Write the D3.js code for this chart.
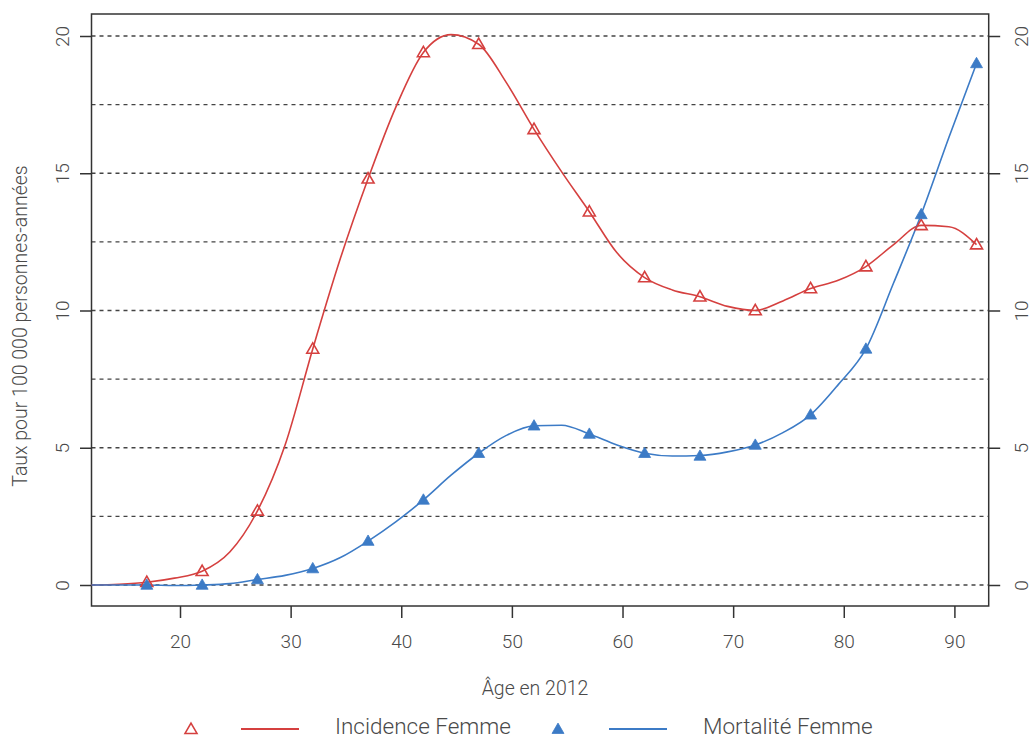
<!DOCTYPE html>
<html><head><meta charset="utf-8">
<script src="https://cdn.jsdelivr.net/npm/d3@7"></script>
<style>body{margin:0;background:#fff}svg{display:block;font-family:Roboto,"Noto Sans",sans-serif;font-weight:300}</style>
</head><body><svg id="c" width="1034" height="740"></svg>
<script>
// marker data
const markerAges = [17,22,27,32,37,42,47,52,57,62,67,72,77,82,87,92];
const incidenceMarkers = [0.1,0.5,2.7,8.6,14.8,19.4,19.7,16.6,13.6,11.2,10.5,10.0,10.8,11.6,13.1,12.4];
const mortaliteMarkers = [0.0,0.0,0.2,0.6,1.6,3.1,4.8,5.8,5.5,4.8,4.7,5.1,6.2,8.6,13.5,19.0];
// line (smoothed curve) data
const lineAges = [12,14.5,17,19.5,22,24.5,27,29.5,32,34.5,37,39.5,42,44.5,47,49.5,52,54.5,57,59.5,62,64.5,67,69.5,72,74.5,77,79.5,82,84.5,87,89.5,92];
const incidenceLine = [0.0,0.03,0.1,0.25,0.5,1.2,2.7,5.1,8.6,11.9,14.8,17.4,19.4,20.05,19.7,18.3,16.6,15.05,13.6,12.1,11.2,10.75,10.5,10.15,10.0,10.35,10.8,11.1,11.6,12.4,13.1,13.05,12.4];
const mortaliteLine = [0.0,0.0,0.0,-0.02,0.0,0.05,0.2,0.35,0.6,1.0,1.6,2.3,3.1,4.0,4.8,5.45,5.8,5.82,5.5,5.1,4.8,4.7,4.72,4.85,5.1,5.55,6.2,7.3,8.6,11.0,13.5,16.3,19.0];
const xTicks = [20,30,40,50,60,70,80,90];
const yTicks = [0,5,10,15,20];
const gridValues = [0,2.5,5,7.5,10,12.5,15,17.5,20];
const seriesNames = ["Incidence Femme","Mortalité Femme"];
const xTitle = "Âge en 2012";
const yTitle = "Taux pour 100 000 personnes-années";

const RED = "#d5403f", BLUE = "#3c7bc6", INK = "#333", TXT = "#4a4a4a";
const L = 91.5, R = 988.7, T = 14, B = 606;
const svg = d3.select("#c");
const x = d3.scaleLinear().domain([12, 93.1]).range([L, R]);
const y = d3.scaleLinear().domain([0, 20]).range([585, 36]);

// grid
svg.append("g").selectAll("line").data(gridValues).join("line")
  .attr("x1", L).attr("x2", R).attr("y1", d => y(d)).attr("y2", d => y(d))
  .attr("stroke", "#444").attr("stroke-width", 1.3).attr("stroke-dasharray", "4,4");

// axes
const ax = svg.append("g").attr("transform", `translate(0,${B})`)
  .call(d3.axisBottom(x).tickValues(xTicks).tickSize(12).tickPadding(17).tickFormat(d3.format("d")));
const ay = svg.append("g").attr("transform", `translate(${L},0)`)
  .call(d3.axisLeft(y).tickValues(yTicks).tickSize(11.5).tickPadding(0).tickFormat(d3.format("d")));
const ay2 = svg.append("g").attr("transform", `translate(${R},0)`)
  .call(d3.axisRight(y).tickValues(yTicks).tickSize(11.5).tickPadding(0).tickFormat(d3.format("d")));
[ax, ay, ay2].forEach(g => {
  g.select(".domain").remove();
  g.selectAll(".tick line").attr("stroke", INK).attr("stroke-width", 1.5);
  g.selectAll("text").attr("fill", TXT).attr("font-size", 19).attr("font-family", "Roboto").attr("font-weight", 300);
});
ay.selectAll(".tick text").attr("x", null).attr("dy", null)
  .attr("transform", "translate(-28,0) rotate(-90)").attr("text-anchor", "middle").attr("dominant-baseline", "middle");
ay2.selectAll(".tick text").attr("x", null).attr("dy", null)
  .attr("transform", "translate(34,0) rotate(-90)").attr("text-anchor", "middle").attr("dominant-baseline", "middle");

// box
svg.append("rect").attr("x", L).attr("y", T).attr("width", R - L).attr("height", B - T)
  .attr("fill", "none").attr("stroke", INK).attr("stroke-width", 1.5);

// lines
const line = d3.line().x(d => x(d[0])).y(d => y(d[1])).curve(d3.curveMonotoneX);
svg.append("path").datum(lineAges.map((a, i) => [a, incidenceLine[i]]))
  .attr("d", line).attr("fill", "none").attr("stroke", RED).attr("stroke-width", 1.6);
svg.append("path").datum(lineAges.map((a, i) => [a, mortaliteLine[i]]))
  .attr("d", line).attr("fill", "none").attr("stroke", BLUE).attr("stroke-width", 1.6);

// markers
const tri = d3.symbol().type(d3.symbolTriangle).size(62);
svg.append("g").selectAll("path").data(markerAges.map((a, i) => [a, incidenceMarkers[i]])).join("path")
  .attr("d", tri).attr("transform", d => `translate(${x(d[0])},${y(d[1]) + 0.8})`)
  .attr("fill", "none").attr("stroke", RED).attr("stroke-width", 1.6);
svg.append("g").selectAll("path").data(markerAges.map((a, i) => [a, mortaliteMarkers[i]])).join("path")
  .attr("d", tri).attr("transform", d => `translate(${x(d[0])},${y(d[1]) + 0.8})`)
  .attr("fill", BLUE).attr("stroke", BLUE).attr("stroke-width", 0.8);

// titles
svg.append("text").attr("x", 535).attr("y", 695).attr("text-anchor", "middle")
  .attr("fill", TXT).attr("font-size", 19.5).text(xTitle);
svg.append("text").attr("transform", "translate(27,326) rotate(-90)").attr("text-anchor", "middle")
  .attr("fill", TXT).attr("font-size", 19.5).text(yTitle);

// legend
const lg = svg.append("g");
const ly = 729;
lg.append("path").attr("d", tri).attr("transform", `translate(191,${ly + 1})`)
  .attr("fill", "none").attr("stroke", RED).attr("stroke-width", 1.6);
lg.append("line").attr("x1", 241).attr("x2", 299).attr("y1", ly).attr("y2", ly).attr("stroke", RED).attr("stroke-width", 1.8);
lg.append("text").attr("x", 335).attr("y", 734).attr("fill", TXT).attr("font-size", 22.5).text(seriesNames[0]);
lg.append("path").attr("d", tri).attr("transform", `translate(558,${ly + 1})`)
  .attr("fill", BLUE).attr("stroke", BLUE).attr("stroke-width", 0.8);
lg.append("line").attr("x1", 609).attr("x2", 667).attr("y1", ly).attr("y2", ly).attr("stroke", BLUE).attr("stroke-width", 1.8);
lg.append("text").attr("x", 703).attr("y", 734).attr("fill", TXT).attr("font-size", 22.5).text(seriesNames[1]);
</script></body></html>
